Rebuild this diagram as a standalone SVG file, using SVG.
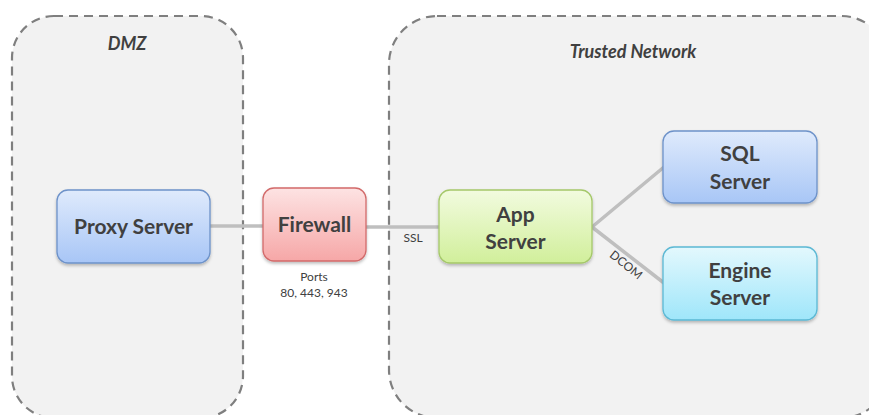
<svg xmlns="http://www.w3.org/2000/svg" width="869" height="415" viewBox="0 0 869 415">
<defs>
<linearGradient id="gBlue" x1="0" y1="0" x2="0" y2="1"><stop offset="0" stop-color="#dfeafc"/><stop offset="1" stop-color="#a8c6f6"/></linearGradient>
<linearGradient id="gRed" x1="0" y1="0" x2="0" y2="1"><stop offset="0" stop-color="#fde3e3"/><stop offset="1" stop-color="#f6a7a7"/></linearGradient>
<linearGradient id="gGreen" x1="0" y1="0" x2="0" y2="1"><stop offset="0" stop-color="#f2fbdf"/><stop offset="1" stop-color="#d1ef9b"/></linearGradient>
<linearGradient id="gCyan" x1="0" y1="0" x2="0" y2="1"><stop offset="0" stop-color="#e3f8fd"/><stop offset="1" stop-color="#9fe6fa"/></linearGradient>
<filter id="shadow" x="-10%" y="-10%" width="120%" height="130%"><feDropShadow dx="0" dy="2" stdDeviation="1.5" flood-color="#000" flood-opacity="0.25"/></filter>
</defs>
<style>
.zone{fill:#f2f2f2;stroke:#7f7f7f;stroke-width:2.2;stroke-dasharray:9 6}
.zlabel{font-family:Lato,"Open Sans",sans-serif;font-weight:bold;font-style:italic;font-size:18px;fill:#404040;text-anchor:middle}
.node rect{stroke-width:1.3;filter:url(#shadow)}
.ntext{font-family:Lato,"Open Sans",sans-serif;font-weight:bold;font-size:21px;fill:#404040;text-anchor:middle}
.small{font-family:Lato,"Open Sans",sans-serif;font-size:12px;fill:#404040;text-anchor:middle}
.conn{stroke:#bfbfbf;stroke-width:3.5;fill:none}
</style>
<g id="zone-dmz">
<rect class="zone" x="12" y="16" width="231" height="402" rx="42"/>
<text class="zlabel" x="127" y="50">DMZ</text>
</g>
<g id="zone-trusted">
<rect class="zone" x="389" y="16" width="500" height="402" rx="48"/>
<text class="zlabel" x="633" y="58">Trusted Network</text>
</g>
<g id="connectors">
<line class="conn" x1="210" y1="226" x2="263" y2="226"/>
<line class="conn" x1="366" y1="227" x2="439" y2="227"/>
<line class="conn" x1="592" y1="227" x2="664" y2="167"/>
<line class="conn" x1="592" y1="227" x2="664" y2="283"/>
<text class="small" x="314" y="281">Ports</text>
<text class="small" x="314" y="297">80, 443, 943</text>
<text class="small" x="413" y="242">SSL</text>
<text class="small" x="626" y="269" transform="rotate(38.7 626 265)">DCOM</text>
</g>
<g id="proxy-server" class="node">
<rect x="57" y="190" width="153" height="73" rx="11" fill="url(#gBlue)" stroke="#6d92c9"/>
<text class="ntext" x="133.5" y="234">Proxy Server</text>
</g>
<g id="firewall" class="node">
<rect x="263" y="188" width="103" height="73" rx="11" fill="url(#gRed)" stroke="#d26a6a"/>
<text class="ntext" x="314.5" y="232">Firewall</text>
</g>
<g id="app-server" class="node">
<rect x="439" y="190" width="153" height="73" rx="11" fill="url(#gGreen)" stroke="#a5c86a"/>
<text class="ntext" x="515.5" y="222">App</text>
<text class="ntext" x="515.5" y="249">Server</text>
</g>
<g id="sql-server" class="node">
<rect x="663" y="131" width="154" height="72" rx="11" fill="url(#gBlue)" stroke="#6d92c9"/>
<text class="ntext" x="740" y="161">SQL</text>
<text class="ntext" x="740" y="189">Server</text>
</g>
<g id="engine-server" class="node">
<rect x="663" y="247" width="154" height="73" rx="11" fill="url(#gCyan)" stroke="#5bb8d4"/>
<text class="ntext" x="740" y="278">Engine</text>
<text class="ntext" x="740" y="305">Server</text>
</g>
</svg>
